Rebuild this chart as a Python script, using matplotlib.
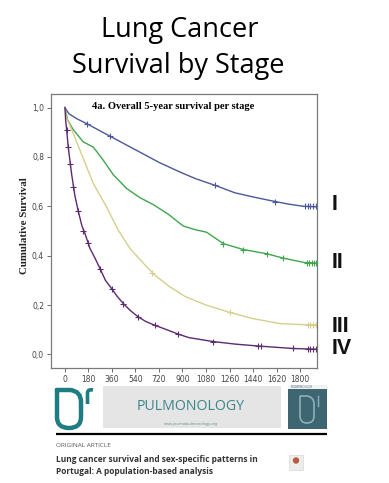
"""
Lung cancer survival by stage: Kaplan-Meier style curves with a journal banner.
"""
import matplotlib
matplotlib.use("Agg")
import matplotlib.pyplot as plt
from matplotlib.patches import Rectangle, PathPatch, Circle
from matplotlib.path import Path

# ---------------------------------------------------------------------------
# Data
# ---------------------------------------------------------------------------
stage_labels = ["I", "II", "III", "IV"]

days_I = [0, 30, 90, 166, 345, 600, 720, 880, 1000, 1149, 1300, 1440, 1557, 1700, 1825, 1930]
surv_I = [1.0, 0.975, 0.955, 0.935, 0.884, 0.812, 0.778, 0.739, 0.712, 0.685, 0.655, 0.638, 0.625, 0.61, 0.600, 0.598]

days_II = [0, 20, 64, 140, 217, 293, 370, 472, 574, 676, 791, 906, 1000, 1085, 1212, 1365, 1544, 1672, 1838, 1930]
surv_II = [1.0, 0.95, 0.91, 0.861, 0.84, 0.787, 0.728, 0.672, 0.635, 0.607, 0.568, 0.52, 0.505, 0.495, 0.449, 0.425, 0.408, 0.39, 0.372, 0.37]

days_III = [0, 10, 38, 115, 217, 319, 408, 498, 613, 689, 800, 919, 1080, 1263, 1440, 1646, 1850, 1930]
surv_III = [1.0, 0.96, 0.928, 0.827, 0.692, 0.597, 0.503, 0.429, 0.362, 0.321, 0.275, 0.235, 0.2, 0.17, 0.145, 0.125, 0.12, 0.12]

days_IV = [0, 5, 13, 25, 51, 77, 102, 130, 153, 191, 230, 268, 310, 357, 400, 447, 500, 561,
           620, 689, 780, 868, 950, 1136, 1300, 1480, 1748, 1930]
surv_IV = [1.0, 0.95, 0.91, 0.84, 0.73, 0.64, 0.58, 0.52, 0.49, 0.43, 0.39, 0.348, 0.30, 0.267,
           0.235, 0.206, 0.178, 0.152, 0.133, 0.118, 0.10, 0.082, 0.068, 0.052, 0.042, 0.034, 0.024, 0.021]

# censored observations (+ marks)
cens_days_I = [166, 345, 1149, 1608, 1840, 1860, 1880, 1900, 1920]
cens_surv_I = [0.935, 0.884, 0.685, 0.618, 0.600, 0.600, 0.600, 0.600, 0.600]
cens_days_II = [1212, 1365, 1544, 1672, 1850, 1870, 1890, 1910, 1925]
cens_surv_II = [0.449, 0.425, 0.408, 0.39, 0.371, 0.371, 0.370, 0.370, 0.370]
cens_days_III = [664, 1263, 1860, 1880, 1900, 1920]
cens_surv_III = [0.33, 0.17, 0.12, 0.12, 0.12, 0.12]
cens_days_IV = [13, 25, 40, 64, 102, 140, 178, 268, 357, 447, 561, 689, 868, 1136, 1480, 1500,
                1748, 1860, 1880, 1900, 1920]
cens_surv_IV = [0.91, 0.84, 0.77, 0.68, 0.58, 0.50, 0.45, 0.348, 0.267, 0.206, 0.152, 0.118,
                0.082, 0.052, 0.034, 0.033, 0.024, 0.022, 0.022, 0.021, 0.021]

x_ticks = [0, 180, 360, 540, 720, 900, 1080, 1260, 1440, 1620, 1800]
y_ticks = [0.0, 0.2, 0.4, 0.6, 0.8, 1.0]

colors = {"I": "#4b5899", "II": "#3fa64c", "III": "#d6cf8c", "IV": "#5c2a6e"}

W, H = 389, 483
fig = plt.figure(figsize=(W / 100, H / 100), dpi=100)
fig.patch.set_facecolor("white")

# background axis in pixel coordinates for all decorations
bg = fig.add_axes([0, 0, 1, 1])
bg.set_xlim(0, W)
bg.set_ylim(H, 0)
bg.axis("off")

# ---------------------------------------------------------------------------
# Survival plot
# ---------------------------------------------------------------------------
ax = fig.add_axes([51 / W, 1 - 368 / H, 266 / W, 274 / H])
series = [
    ("I", days_I, surv_I, cens_days_I, cens_surv_I),
    ("II", days_II, surv_II, cens_days_II, cens_surv_II),
    ("III", days_III, surv_III, cens_days_III, cens_surv_III),
    ("IV", days_IV, surv_IV, cens_days_IV, cens_surv_IV),
]
for name, d, s, cd, cs in series:
    ax.plot(d, s, color=colors[name], lw=1.0)
    ax.plot(cd, cs, ls="none", marker="+", ms=4, mew=0.8, color=colors[name])

ax.set_xlim(-107, 1930)
ax.set_ylim(-0.055, 1.055)
ax.set_xticks(x_ticks)
ax.set_xticklabels([str(t) for t in x_ticks])
ax.set_yticks(y_ticks)
ax.set_yticklabels([f"{t:.1f}".replace(".", ",") for t in y_ticks])
ax.tick_params(labelsize=5.5, length=3, width=0.6, color="#555", labelcolor="#444", pad=2)
for sp in ax.spines.values():
    sp.set_color("#7a7a7a")
    sp.set_linewidth(0.9)
ax.text(0.459, 0.955, "4a. Overall 5-year survival per stage", transform=ax.transAxes,
        ha="center", va="center", fontsize=7.6, fontweight="bold", family="Liberation Serif")

bg.text(25, 226, "Cumulative Survival", rotation=90, ha="center", va="center",
        fontsize=7.8, fontweight="bold", family="Liberation Serif", color="#222")

# ---------------------------------------------------------------------------
# Title and stage labels
# ---------------------------------------------------------------------------
bg.text(180, 37, "Lung Cancer", ha="center", va="baseline", fontsize=19.5, family="Open Sans")
bg.text(178, 73, "Survival by Stage", ha="center", va="baseline", fontsize=19.5, family="Open Sans")

label_y = [205, 262, 327, 349]
for lab, y in zip(stage_labels, label_y):
    bg.text(332, y, lab, ha="left", va="center", fontsize=15.5, fontweight="bold",
            family="Liberation Sans", color="#111")

# ---------------------------------------------------------------------------
# Journal banner
# ---------------------------------------------------------------------------
teal = "#1f7c82"
logo = Path([(57, 390), (57, 417), (57, 428), (69, 428), (81, 428), (81, 417),
             (81, 402), (81, 391), (70, 390), (57, 390)],
            [Path.MOVETO, Path.LINETO, Path.CURVE3, Path.CURVE3, Path.CURVE3, Path.CURVE3,
             Path.LINETO, Path.CURVE3, Path.CURVE3, Path.LINETO])
bg.add_patch(PathPatch(logo, fill=False, edgecolor=teal, lw=3.2, capstyle="round", joinstyle="round"))
hook = Path([(87.5, 404), (87.5, 393), (87.5, 389), (93, 390)],
            [Path.MOVETO, Path.LINETO, Path.CURVE3, Path.CURVE3])
bg.add_patch(PathPatch(hook, fill=False, edgecolor=teal, lw=2.6, capstyle="butt"))

bg.add_patch(Rectangle((103, 386), 178, 42, facecolor="#e5e5e5", edgecolor="none"))
bg.text(191, 410.5, "PULMONOLOGY", ha="center", va="baseline", fontsize=10.2,
        family="Open Sans", color="#3b858c")
bg.text(191, 425, "www.journalpulmonology.org", ha="center", va="baseline", fontsize=2.8,
        family="Open Sans", color="#6a8a8e")

bg.add_patch(Rectangle((288, 385), 39, 44, facecolor="#3e6672", edgecolor="none"))
bg.add_patch(Rectangle((288, 385), 39, 4, facecolor="#f2f2f2", edgecolor="none"))
bg.text(291, 388, "PULMONOLOGY", ha="left", va="baseline", fontsize=2.2, color="#456", family="Open Sans")
cover = Path([(300, 396), (300, 416), (300, 423), (307, 423), (314, 423), (314, 416),
              (314, 404), (314, 397), (307, 396), (300, 396)],
             [Path.MOVETO, Path.LINETO, Path.CURVE3, Path.CURVE3, Path.CURVE3, Path.CURVE3,
              Path.LINETO, Path.CURVE3, Path.CURVE3, Path.LINETO])
bg.add_patch(PathPatch(cover, fill=False, edgecolor="#8fb0b8", lw=1.2))
bg.plot([318, 318], [406, 396], color="#8fb0b8", lw=1.0)

bg.plot([56, 327], [434, 434], color="black", lw=1.6, solid_capstyle="butt")
bg.text(56, 447, "ORIGINAL ARTICLE", ha="left", va="baseline", fontsize=4.6,
        family="Open Sans", color="#555")
bg.text(56, 462.5, "Lung cancer survival and sex-specific patterns in", ha="left", va="baseline",
        fontsize=6.0, family="Open Sans", fontweight="bold", color="#333")
bg.text(56, 473.5, "Portugal: A population-based analysis", ha="left", va="baseline",
        fontsize=6.0, family="Open Sans", fontweight="bold", color="#333")

bg.add_patch(Rectangle((289, 455), 14, 15, facecolor="#ededed", edgecolor="#d0d0d0", lw=0.4))
bg.add_patch(Circle((296, 460.5), 3.2, facecolor="#b65a45", edgecolor="none"))

fig.savefig("out.png", dpi=100, facecolor="white")
